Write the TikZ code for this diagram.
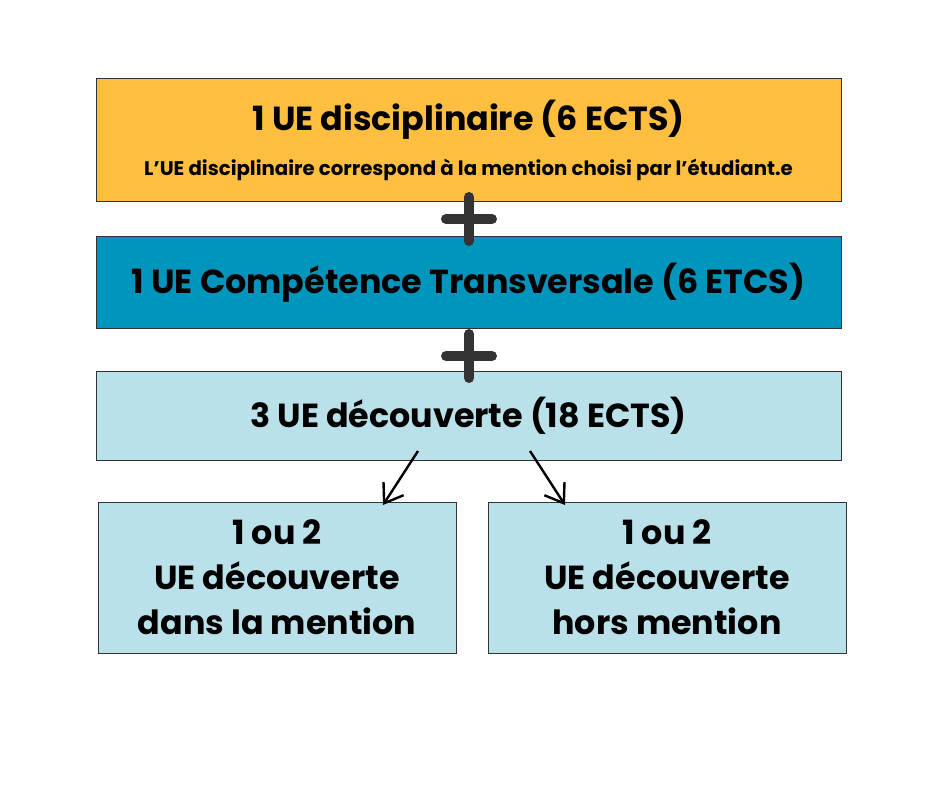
\documentclass[tikz,border=0pt]{standalone}
\usepackage{fontspec}
\setmainfont{Poppins}
\usetikzlibrary{arrows.meta,positioning}
\definecolor{ueorange}{HTML}{FEBE40}
\definecolor{ueteal}{HTML}{0095BC}
\definecolor{uelight}{HTML}{BAE0E9}
\definecolor{plusgray}{HTML}{333333}
\tikzset{>=latex}

\begin{document}
\begin{tikzpicture}[x=0.75pt,y=-0.75pt,
  uebox/.style={draw=plusgray,line width=0.75pt,inner sep=0pt,align=center,font=\bfseries},
  wide/.style={uebox,minimum width=558.75pt},
  small/.style={uebox,minimum width=268.5pt,minimum height=113.25pt,fill=uelight},
  plus/.style={plusgray,line width=7.5pt,line cap=round},
  arr/.style={-{Straight Barb[length=13pt,width=18pt,line width=1.8pt]},line width=1.8pt,black}]
\useasboundingbox (0,0) rectangle (940,788);
\node[wide,fill=ueorange,minimum height=92.25pt] (disc) at (468.5,140.5)
  {\fontsize{25}{30}\selectfont 1 UE disciplinaire (6 ECTS)\\[14pt]
   \fontsize{14.8}{17}\selectfont L’UE disciplinaire correspond à la mention choisi par l’étudiant.e};
\node[wide,fill=ueteal,minimum height=69pt,font=\bfseries\fontsize{25}{30}\selectfont] (comp) at (468.5,283)
  {1 UE Compétence Transversale (6 ETCS)};
\node[wide,fill=uelight,minimum height=66.75pt,font=\bfseries\fontsize{25}{30}\selectfont] (dec) at (468.5,415.5)
  {3 UE découverte (18 ECTS)};
\node[small,font=\bfseries\fontsize{25}{33.75}\selectfont] (dans) at (277,577.5)
  {1 ou 2\\UE découverte\\dans la mention};
\node[small,font=\bfseries\fontsize{25}{33.75}\selectfont] (hors) at (667,577.5)
  {1 ou 2\\UE découverte\\ hors mention};
% plus signs
\foreach \y in {219,356} {
  \draw[plus] (469,\y-22) -- (469,\y+22);
  \draw[plus] (446,\y) -- (492,\y);
}
% arrows
\coordinate (dl) at (418,451);
\coordinate (dr) at (530,451);
\coordinate (tl) at (383,505);
\coordinate (tr) at (565,505);
\draw[arr] (dl) -- (tl);
\draw[arr] (dr) -- (tr);
\end{tikzpicture}
\end{document}
